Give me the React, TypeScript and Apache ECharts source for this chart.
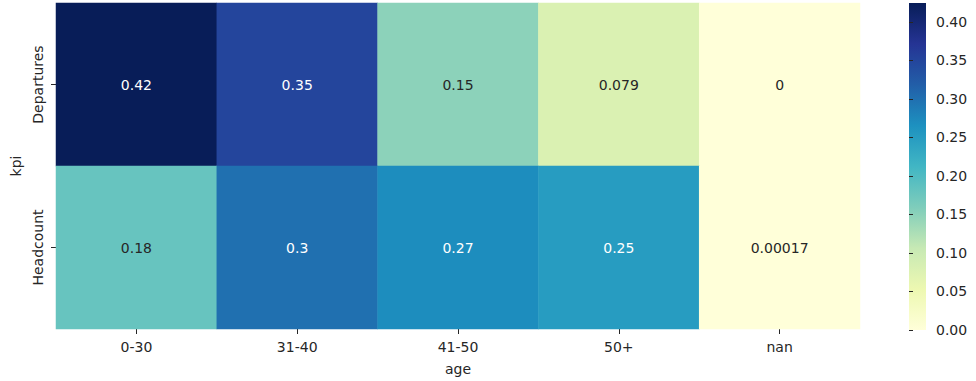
import React, { useEffect, useRef } from "react";
import * as echarts from "echarts";

const ages = ["0-30", "31-40", "41-50", "50+", "nan"];
const kpis = ["Departures", "Headcount"];
const departures = [0.4246, 0.35, 0.15, 0.079, 0];
const headcount = [0.18, 0.3, 0.27, 0.25, 0.00017];
const colorbarTicks = [0, 0.05, 0.1, 0.15, 0.2, 0.25, 0.3, 0.35, 0.4];
const ylgnbu = ["#ffffd9", "#edf8b1", "#c7e9b4", "#7fcdbb", "#41b6c4", "#1d91c0", "#225ea8", "#253494", "#081d58"];

const FONT = "DejaVu Sans";
const TXT = "#262626";

function fmtG(v: number): string {
  if (v === 0) return "0";
  return String(parseFloat(v.toPrecision(2)));
}

export default function App() {
  const ref = useRef<HTMLDivElement>(null);
  useEffect(() => {
    if (!ref.current) return;
    const chart = echarts.init(ref.current, undefined, { renderer: "svg" });
    const rows = [departures, headcount];
    const vmax = Math.max(...departures, ...headcount);
    const vmin = 0;
    const data: any[] = [];
    rows.forEach((row, yi) => {
      row.forEach((v, xi) => {
        data.push({
          value: [xi, yi, v],
          label: { color: v > 0.22 ? "#ffffff" : TXT },
        });
      });
    });
    const cb = { left: 909, top: 3, width: 17, height: 327 };
    chart.setOption({
      animation: false,
      textStyle: { fontFamily: FONT },
      grid: [
        { left: 56, top: 3, width: 804, height: 327 },
        { left: cb.left, top: cb.top, width: cb.width, height: cb.height },
      ],
      xAxis: [
        {
          type: "category",
          gridIndex: 0,
          data: ages,
          position: "bottom",
          axisLine: { show: false },
          axisTick: { show: true, alignWithLabel: true, length: 5, lineStyle: { color: TXT } },
          axisLabel: { fontSize: 14, color: TXT, fontFamily: FONT, margin: 11 },
          splitArea: { show: false },
          splitLine: { show: false },
          name: "age",
          nameLocation: "middle",
          nameGap: 33,
          nameTextStyle: { fontSize: 14, color: TXT, fontFamily: FONT },
        },
        {
          type: "value",
          gridIndex: 1,
          show: false,
          min: 0,
          max: 1,
        },
      ],
      yAxis: [
        {
          type: "category",
          gridIndex: 0,
          data: kpis,
          inverse: true,
          axisLine: { show: false },
          axisTick: { show: true, alignWithLabel: true, length: 5, lineStyle: { color: TXT } },
          axisLabel: { fontSize: 14, color: TXT, fontFamily: FONT, rotate: 90, margin: 11 },
          splitArea: { show: false },
          splitLine: { show: false },
          name: "kpi",
          nameLocation: "middle",
          nameGap: 33,
          nameTextStyle: { fontSize: 14, color: TXT, fontFamily: FONT },
        },
        {
          type: "value",
          gridIndex: 1,
          position: "right",
          min: vmin,
          max: vmax,
          axisLine: { show: false },
          splitLine: { show: false },
          axisTick: {
            show: true,
            length: 4,
            customValues: colorbarTicks,
            lineStyle: { color: TXT },
          },
          axisLabel: {
            fontSize: 14,
            color: TXT,
            fontFamily: FONT,
            margin: 10,
            customValues: colorbarTicks,
            formatter: (v: number) => v.toFixed(2),
          },
        },
      ],
      visualMap: {
        type: "continuous",
        min: vmin,
        max: vmax,
        seriesIndex: 0,
        show: false,
        inRange: { color: ylgnbu },
      },
      graphic: [
        {
          type: "rect",
          left: cb.left,
          top: cb.top,
          shape: { width: cb.width, height: cb.height },
          silent: true,
          style: {
            fill: new echarts.graphic.LinearGradient(
              0, 1, 0, 0,
              ylgnbu.map((c, i) => ({ offset: i / (ylgnbu.length - 1), color: c }))
            ),
          },
        },
      ],
      series: [
        {
          type: "heatmap",
          xAxisIndex: 0,
          yAxisIndex: 0,
          data,
          label: {
            show: true,
            fontSize: 14,
            fontFamily: FONT,
            formatter: (p: any) => fmtG(p.value[2]),
          },
          itemStyle: { borderWidth: 0 },
          emphasis: { disabled: true },
        },
      ],
    });
    return () => chart.dispose();
  }, []);
  return (
    <div
      ref={ref}
      style={{ position: "fixed", left: 0, top: 0, width: 976, height: 381, background: "#fff" }}
    />
  );
}
